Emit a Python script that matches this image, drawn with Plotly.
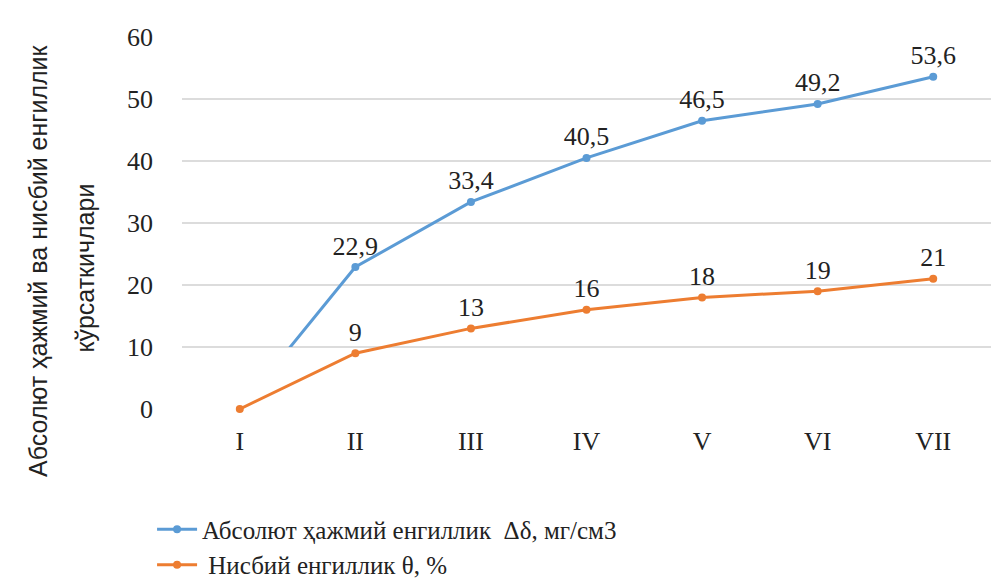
import plotly.graph_objects as go

# Stages and measured indicators
stages = ["I", "II", "III", "IV", "V", "VI", "VII"]
abs_lightness = [0, 22.9, 33.4, 40.5, 46.5, 49.2, 53.6]      # Δδ, мг/см3
rel_lightness = [0, 9, 13, 16, 18, 19, 21]                   # θ, %
y_ticks = [0, 10, 20, 30, 40, 50, 60]

BLUE = "#5B9BD5"
ORANGE = "#ED7D31"
TEXT = "#222222"
SERIF = "Liberation Serif, Times New Roman, serif"
SANS = "Liberation Sans, Arial, sans-serif"
FS = 26


def fmt(v):
    return f"{v:g}".replace(".", ",")


xs = list(range(len(stages)))

fig = go.Figure()

# Absolute lightness drawn on an overlay axis whose lower edge sits at 10
fig.add_trace(go.Scatter(
    x=xs, y=abs_lightness,
    name="Абсолют ҳажмий енгиллик\u00a0\u00a0Δδ, мг/см3",
    mode="lines+markers+text",
    line=dict(color=BLUE, width=3),
    marker=dict(color=BLUE, size=8),
    text=[""] + [fmt(v) for v in abs_lightness[1:]],
    textposition="top center",
    textfont=dict(family=SERIF, size=FS, color=TEXT),
    yaxis="y2",
    cliponaxis=True,
))

fig.add_trace(go.Scatter(
    x=xs, y=rel_lightness,
    name="\u00a0Нисбий енгиллик θ, %",
    mode="lines+markers+text",
    line=dict(color=ORANGE, width=3),
    marker=dict(color=ORANGE, size=8),
    text=[""] + [fmt(v) for v in rel_lightness[1:]],
    textposition="top center",
    textfont=dict(family=SERIF, size=FS, color=TEXT),
    cliponaxis=False,
))

fig.update_layout(
    width=1000, height=585,
    margin=dict(l=182, r=9, t=37, b=176, autoexpand=False),
    paper_bgcolor="white",
    plot_bgcolor="rgba(0,0,0,0)",
    showlegend=True,
    legend=dict(
        x=-0.037, y=-0.262, xanchor="left", yanchor="top",
        orientation="v",
        font=dict(family=SERIF, size=25, color=TEXT),
        bgcolor="rgba(0,0,0,0)",
        tracegroupgap=0,
        itemwidth=40,
    ),
    xaxis=dict(
        tickmode="array", tickvals=xs, ticktext=stages,
        range=[-0.5, len(stages) - 0.5],
        showgrid=False, zeroline=False, showline=False,
        ticks="", ticklabelstandoff=14,
        tickfont=dict(family=SERIF, size=FS, color=TEXT),
    ),
    yaxis=dict(
        range=[0, 60], tickmode="array", tickvals=y_ticks,
        showgrid=True, gridcolor="#DCDCDC", gridwidth=2,
        zeroline=False, showline=False, ticks="",
        ticklabelstandoff=28,
        tickfont=dict(family=SERIF, size=FS, color=TEXT),
        domain=[0, 1],
    ),
    yaxis2=dict(
        range=[10, 60], domain=[1 / 6, 1], anchor="x",
        showgrid=False, zeroline=False, showline=False,
        showticklabels=False, ticks="",
    ),
    annotations=[
        dict(text="Абсолют ҳажмий ва нисбий енгиллик", textangle=-90,
             xref="paper", yref="paper", x=-0.178, y=0.398,
             xanchor="center", yanchor="middle", showarrow=False,
             font=dict(family=SANS, size=25, color=TEXT)),
        dict(text="кўрсаткичлари", textangle=-90,
             xref="paper", yref="paper", x=-0.12, y=0.38,
             xanchor="center", yanchor="middle", showarrow=False,
             font=dict(family=SANS, size=25, color=TEXT)),
    ],
)

fig.write_html("out.html")
